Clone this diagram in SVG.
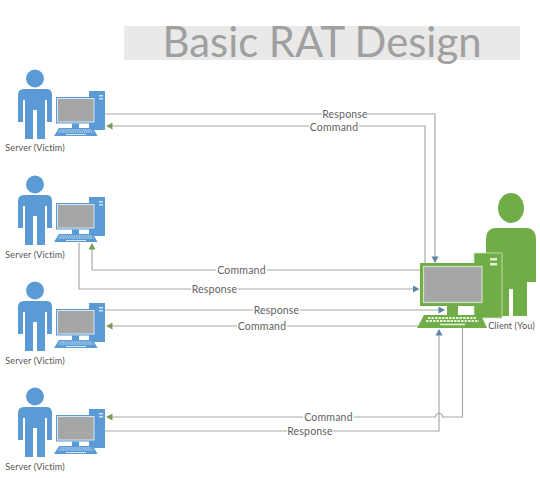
<svg xmlns="http://www.w3.org/2000/svg" width="540" height="478" viewBox="0 0 540 478">
<style>
text{font-family:"Lato","Open Sans","Liberation Sans",sans-serif}
.lbl{font-size:10.5px;fill:#5f5f5f;text-anchor:middle;letter-spacing:.2px}
.cap{font-size:9px;fill:#555;text-anchor:middle;letter-spacing:.12px}
.bg{fill:#fff;stroke:none}
.c{fill:none;stroke:#a4aba2;stroke-width:1.2}
.ag{fill:#7f9a5f}
.ab{fill:#5f84a6}
</style>
<defs>
<g id="server-art">
<circle cx="35" cy="78.500" r="9" fill="#5b9bd5"/>
<path d="M24 89H47Q52 89 52 95V122H47V100H45V139H37V110H33V139H25V100H23V122H18V95Q18 89 24 89Z" fill="#5b9bd5"/>
<rect x="89" y="91" width="16" height="39" fill="#5b9bd5"/>
<rect x="99" y="95" width="4" height="1.500" fill="#cfe2f3"/>
<rect x="99" y="98" width="4" height="1.500" fill="#cfe2f3"/>
<rect x="56" y="97" width="39.500" height="26.500" fill="#5b9bd5"/>
<rect x="57.500" y="98.500" width="36.500" height="23.500" fill="#a6a6a6" stroke="#d6e6f5" stroke-width="1"/>
<rect x="72" y="123.500" width="7" height="4.500" fill="#5b9bd5"/>
<path d="M59 128H93L97.500 136H54Z" fill="#5b9bd5"/>
<path d="M60 130H92M58.500 132H93.500" stroke="#d6e6f5" stroke-width="1.200" stroke-dasharray="1.500 .8"/>
<path d="M66 134.500H86" stroke="#d6e6f5" stroke-width="1"/>
</g>
</defs>
<g id="title">
<rect x="124" y="26" width="396" height="34" fill="#e9e9e9"/>
<text x="322" y="57" font-size="43" fill="#a0a0a0" text-anchor="middle" textLength="319" lengthAdjust="spacingAndGlyphs">Basic RAT Design</text>
</g>
<g id="connectors">
<path class="c" d="M105 114H435V257"/>
<path class="c" d="M425 263V126H112"/>
<path class="c" d="M420 270H92V249"/>
<path class="c" d="M79 243V289H413"/>
<path class="c" d="M105 310H439"/>
<path class="c" d="M418 326H112"/>
<path class="c" d="M462.500 328V417H442.500A3.500 3.500 0 0 0 435.500 417H112"/>
<path class="c" d="M105 431H439V335"/>
<path class="ab" d="M435 263l-3.500-6.500h7z"/>
<path class="ag" d="M106 126l6.500-3.500v7z"/>
<path class="ag" d="M92 243l-3.500 6.500h7z"/>
<path class="ab" d="M419.500 289l-6.500-3.500v7z"/>
<path class="ag" d="M106 326l6.500-3.500v7z"/>
<path class="ag" d="M106 417l6.500-3.500v7z"/>
<path class="ab" d="M439 329l-3.500 6.500h7z"/>
</g>
<g id="connector-labels">
<rect class="bg" x="322" y="108" width="46" height="12"/><text class="lbl" x="345" y="118">Response</text>
<rect class="bg" x="309" y="121" width="50" height="12"/><text class="lbl" x="334" y="131">Command</text>
<rect class="bg" x="216" y="264" width="51" height="12"/><text class="lbl" x="241.500" y="274">Command</text>
<rect class="bg" x="191" y="283" width="47" height="12"/><text class="lbl" x="214.500" y="293">Response</text>
<rect class="bg" x="253" y="304" width="47" height="12"/><text class="lbl" x="276.500" y="314">Response</text>
<rect class="bg" x="237" y="320" width="50" height="12"/><text class="lbl" x="262" y="330">Command</text>
<rect class="bg" x="303" y="411" width="51" height="12"/><text class="lbl" x="328.500" y="421">Command</text>
<rect class="bg" x="287" y="425" width="46" height="12"/><text class="lbl" x="310" y="435">Response</text>
</g>
<g id="server-1"><use href="#server-art"/><text class="cap" x="35" y="151">Server (Victim)</text></g>
<g id="server-2"><use href="#server-art" y="106"/><text class="cap" x="35" y="258">Server (Victim)</text></g>
<g id="server-3"><use href="#server-art" y="212"/><text class="cap" x="35" y="364">Server (Victim)</text></g>
<g id="server-4"><use href="#server-art" y="318"/><text class="cap" x="35" y="470">Server (Victim)</text></g>
<g id="client">
<ellipse cx="511" cy="208" rx="13" ry="15" fill="#70ad47"/>
<path d="M496 228H526Q536 228 536 240V282H527V316H513V289H509V316H495V282H486V240Q486 228 496 228Z" fill="#70ad47"/>
<rect x="474" y="253" width="28" height="65" fill="#70ad47" stroke="#cfe3bf" stroke-width=".8"/>
<rect x="490" y="258" width="7" height="2.500" fill="#e4f0da"/>
<rect x="490" y="263" width="7" height="2.500" fill="#e4f0da"/>
<rect x="420" y="263" width="66" height="43" fill="#70ad47"/>
<rect x="423.500" y="266.500" width="58.500" height="36" fill="#a6a6a6" stroke="#cfe3bf" stroke-width="1.200"/>
<rect x="447" y="306" width="11" height="9" fill="#70ad47"/>
<path d="M424 315H481L487 328H417Z" fill="#70ad47"/>
<path d="M428 318H477M426 321H479" stroke="#e4f0da" stroke-width="1.800" stroke-dasharray="2.500 1"/>
<path d="M440 324.500H465" stroke="#e4f0da" stroke-width="1.500"/>
<text class="cap" x="511.500" y="329">Client (You)</text>
</g>
<path d="M445 310l-6.500-3.500v7z" class="ab"/>
</svg>
